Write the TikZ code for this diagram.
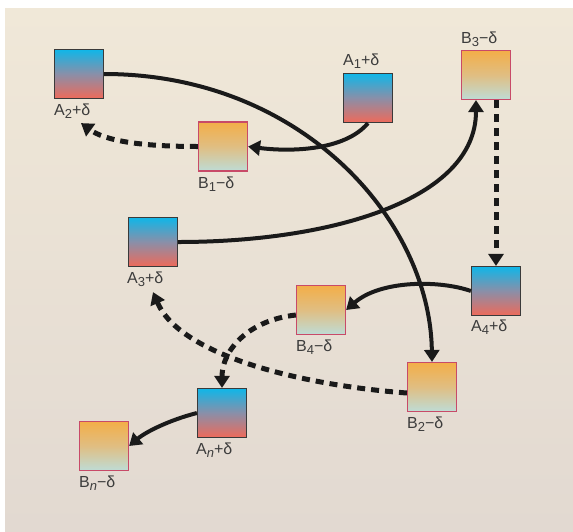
\documentclass[tikz,border=0pt]{standalone}
\usepackage{fontspec}
\setmainfont{Liberation Sans}
\usetikzlibrary{arrows.meta}

\definecolor{paperTop}{HTML}{F0E8D8}
\definecolor{paperBot}{HTML}{E2D9D1}
\definecolor{aTop}{HTML}{10B6E8}
\definecolor{aMid}{HTML}{8A8FA8}
\definecolor{aBot}{HTML}{EE6A5A}
\definecolor{aEdge}{HTML}{3A3A3A}
\definecolor{bTop}{HTML}{F3AE48}
\definecolor{bMid}{HTML}{E0BE82}
\definecolor{bBot}{HTML}{BEDCD6}
\definecolor{bEdge}{HTML}{C84A68}
\definecolor{ink}{HTML}{1A1A1A}
\definecolor{labelgray}{HTML}{3C3C3C}

\newcommand\subx[1]{\raisebox{-3pt}{\fontsize{13}{13}\selectfont #1}}

\tikzset{
  abox/.style={draw=aEdge, line width=1.2pt, minimum size=49pt, inner sep=0pt,
    top color=aTop, bottom color=aBot, middle color=aMid},
  bbox/.style={draw=bEdge, line width=1.2pt, minimum size=49pt, inner sep=0pt,
    top color=bTop, bottom color=bBot, middle color=bMid},
  lab/.style={text=labelgray, font=\fontsize{16}{17}\selectfont, inner sep=0pt, anchor=base west},
  flow/.style={draw=ink, line width=4pt, -{Triangle[length=12pt,width=15pt]}},
  dflow/.style={draw=ink, line width=5pt, dash pattern=on 8pt off 6pt,
    -{Triangle[length=12pt,width=15pt]}},
}

\begin{document}
\begin{tikzpicture}[x=1pt, y=-1pt]
  % page and paper
  \fill[white] (0,0) rectangle (573,531);
  \shade[top color=paperTop, bottom color=paperBot] (5,8) rectangle (573,531);
  \useasboundingbox (0,0) rectangle (573,531);

  % boxes
  \node[abox] (A2) at (79,74) {};
  \node[bbox] (B1) at (223,146.5) {};
  \node[abox] (A1) at (368,98) {};
  \node[bbox] (B3) at (486,75) {};
  \node[abox] (A3) at (153,242) {};
  \node[bbox] (B4) at (321,310) {};
  \node[abox] (A4) at (496,291) {};
  \node[bbox] (B2) at (432,387) {};
  \node[abox] (An) at (222,413) {};
  \node[bbox] (Bn) at (104,446) {};

  % labels
  \node[lab] (lA2) at ([yshift=-16.5pt]A2.south west) {A\subx{2}+δ};
  \node[lab] (lB1) at ([yshift=-16.5pt]B1.south west) {B\subx{1}−δ};
  \node[lab] (lA1) at ([yshift=7pt]A1.north west) {A\subx{1}+δ};
  \node[lab] (lB3) at ([yshift=6pt]B3.north west) {B\subx{3}−δ};
  \node[lab] (lA3) at ([yshift=-16pt,xshift=-1pt]A3.south west) {A\subx{3}+δ};
  \node[lab] (lB4) at ([yshift=-16.5pt]B4.south west) {B\subx{4}−δ};
  \node[lab] (lA4) at ([yshift=-15pt]A4.south west) {A\subx{4}+δ};
  \node[lab] (lB2) at ([yshift=-16pt]B2.south west) {B\subx{2}−δ};
  \node[lab] (lAn) at ([yshift=-16pt,xshift=-1pt]An.south west) {A\subx{\itshape n}+δ};
  \node[lab] (lBn) at ([yshift=-16pt]Bn.south west) {B\subx{\itshape n}−δ};

  % free ends of the dashed returns
  \coordinate (tA2) at ([xshift=2pt,yshift=-24pt]A2.south);
  \coordinate (tA3) at ([yshift=-25pt]A3.south);

  % solid connectors
  \draw[flow] (A2.east) .. controls +(197,0) and +(-2,-142) .. (B2.north);
  \draw[flow] (A1.south) .. controls +(-23,27.5) and +(42.5,5.5) .. (B1.east);
  \draw[flow] (A3.east) .. controls +(152.5,0) and +(0,100) .. ([xshift=-10pt]B3.south);
  \draw[flow] (A4.west) .. controls +(-31.5,-11) and +(34.5,-30) .. (B4.east);
  \draw[flow] (An.west) .. controls +(-27.5,7) and +(16.5,-14) .. (Bn.east);

  % dashed connectors
  \draw[dflow] (B1.west) .. controls +(-58,0) and +(24,17.5) .. (tA2);
  \draw[dflow] (B3.south -| A4.north) -- (A4.north);
  \draw[dflow] ([yshift=-5pt]B4.west) .. controls +(-46.5,5) and +(0,-38.5) .. (An.north);
  \draw[dflow] ([yshift=-6pt]B2.west) .. controls +(-107.5,-8) and +(27,63) .. (tA3);
\end{tikzpicture}
\end{document}
